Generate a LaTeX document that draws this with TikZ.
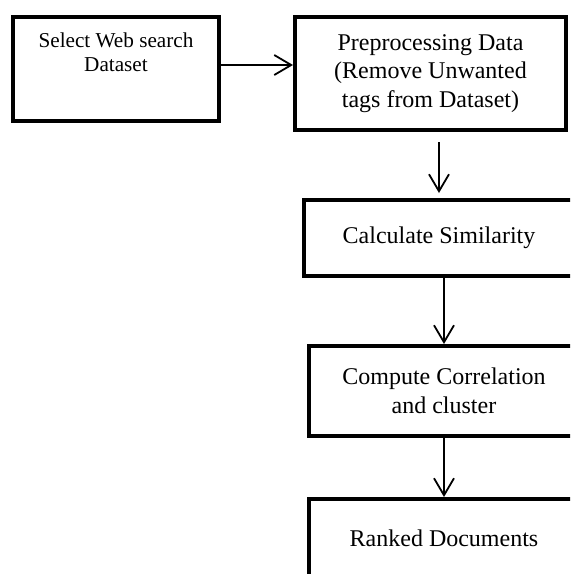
\documentclass[tikz,border=0pt]{standalone}
\usepackage{fontspec}
\setmainfont{Liberation Serif}
\usetikzlibrary{arrows.meta}

\tikzset{
  stage/.style={draw, line width=2pt, inner sep=0pt, align=center,
    font=\fontsize{12}{14.25}\selectfont},
  flow/.style={-{Straight Barb[length=8.5pt,width=10pt]}, line width=0.9pt}
}

\begin{document}
\begin{tikzpicture}[x=0.5pt,y=-0.5pt]

\clip (0,0) rectangle (570,574);

%Boxes of the pipeline
\node[stage, minimum width=103pt, minimum height=52pt] (select) at (116,69) {};
\node[anchor=north, inner sep=0pt, align=center,
      font=\fontsize{10.6}{12.2}\selectfont] (selecttext) at (116,32)
      {Select Web search\\Dataset};

\node[stage, minimum width=135.5pt, minimum height=56.5pt] (prep) at (430.5,73.5)
      {Preprocessing Data\\(Remove Unwanted\\tags from Dataset)};
\node[stage, minimum width=135pt, minimum height=38pt] (calc) at (439,238)
      {Calculate Similarity};
\node[stage, minimum width=135pt, minimum height=45pt] (comp) at (444,391)
      {Compute Correlation\\and cluster};
\node[stage, minimum width=135pt, minimum height=39pt] (rank) at (444,538)
      {Ranked Documents};

%Arrows between the boxes
\draw[flow] ([yshift=2pt]select.east) -- ([yshift=2pt]select.east -| prep.west);
\draw[flow] ([yshift=-5pt]prep.south -| calc.north) -- ([yshift=2.5pt]calc.north);
\draw[flow] (calc.south -| comp.north) -- (comp.north);
\draw[flow] (comp.south) -- (rank.north);

\end{tikzpicture}
\end{document}
